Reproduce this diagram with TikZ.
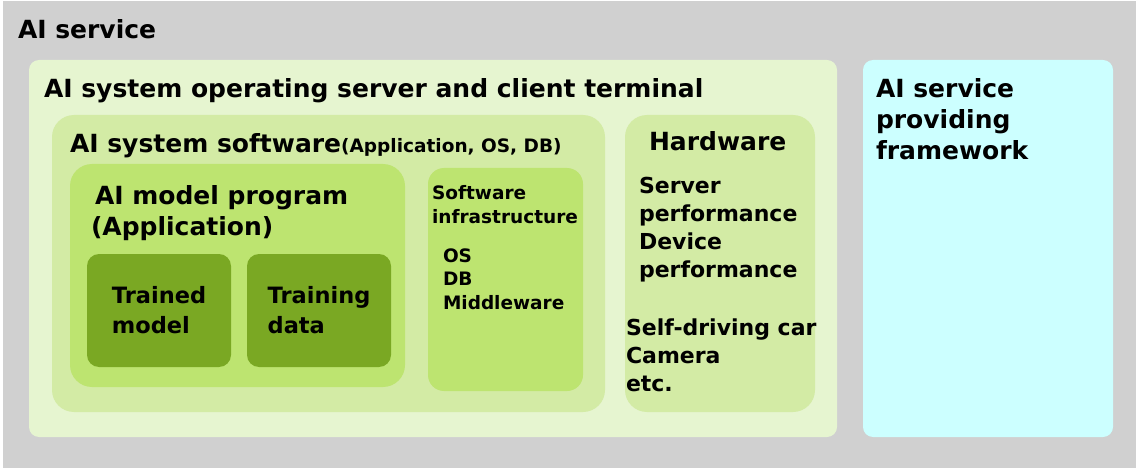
\documentclass[tikz,border=0pt]{standalone}
\usepackage{fontspec}
\setmainfont{DejaVu Sans}
\usepackage{tikz}
\usetikzlibrary{positioning}
\definecolor{bggray}{RGB}{208,208,208}
\definecolor{sysgreen}{RGB}{230,245,208}
\definecolor{softgreen}{RGB}{211,235,165}
\definecolor{modelgreen}{RGB}{189,228,112}
\definecolor{darkgreen}{RGB}{122,168,35}
\definecolor{framecyan}{RGB}{204,255,255}

\begin{document}
\begin{tikzpicture}[x=1pt, y=-1pt,
every node/.style = {inner sep=0pt, outer sep=0pt, text=black},
  panel/.style = {rectangle, anchor=north west, rounded corners=#1},
  bigtext/.style = {anchor=base west, align=left, font=\fontsize{25}{31}\selectfont\bfseries},
  midtext/.style = {anchor=base west, align=left, font=\fontsize{22}{28}\selectfont\bfseries},
  smalltext/.style = {anchor=base west, align=left, font=\fontsize{18.5}{23.5}\selectfont\bfseries},
  darkbox/.style = {panel=12pt, fill=darkgreen, minimum width=144pt, minimum height=113pt,
    align=left, font=\fontsize{22.5}{30}\selectfont\bfseries}
]
\useasboundingbox (0,0) rectangle (1136,468);
% AI service
\node[panel=0pt, fill=bggray, minimum width=1133pt, minimum height=467pt] (service) at (3,1) {};
\node[bigtext] (servicetitle) at (18,39) {AI service};

% server and client terminal
\node[panel=10pt, fill=sysgreen, minimum width=808pt, minimum height=377pt] (system) at (29,60) {};
\node[bigtext] (systemtitle) at (44,98) {AI system operating server and client terminal};

\node[panel=22pt, fill=softgreen, minimum width=553pt, minimum height=297pt] (software) at (52,115) {};
\node[bigtext] (softwaretitle) at (70,153) {AI system software{\fontsize{18.5}{22}\selectfont(Application, OS, DB)}};

% multi-line texts sit on their last baseline
\node[panel=22pt, fill=modelgreen, minimum width=335pt, minimum height=223pt] (model) at (70,164) {};
\node[bigtext] (modeltitle) at (91,235) {\hspace*{4pt}AI model program\\(Application)};

\node[darkbox] (trained) at (87,254) {Trained\\model};
\node[darkbox, right=16pt of trained] (training) {Training\\data};

\node[panel=16pt, fill=modelgreen, minimum width=155pt, minimum height=223pt] (infra) at (428,168) {};
\node[smalltext] (infratitle) at (432,223) {Software\\infrastructure};
\node[smalltext] (infralist) at (443,309) {OS\\DB\\Middleware};

% hardware
\node[panel=22pt, fill=softgreen, minimum width=190pt, minimum height=297pt] (hardware) at (625,115) {};
\node[bigtext] (hardwaretitle) at (649,151) {Hardware};
\node[midtext] (perf) at (639,277) {Server\\performance\\Device\\performance};
\node[midtext] (devices) at (626,391) {Self-driving car\\Camera\\etc.};

% framework
\node[panel=10pt, fill=framecyan, minimum width=250pt, minimum height=377pt] (framework) at (863,60) {};
\node[bigtext] (frameworktitle) at (876,160) {AI service\\providing\\framework};
\end{tikzpicture}
\end{document}
